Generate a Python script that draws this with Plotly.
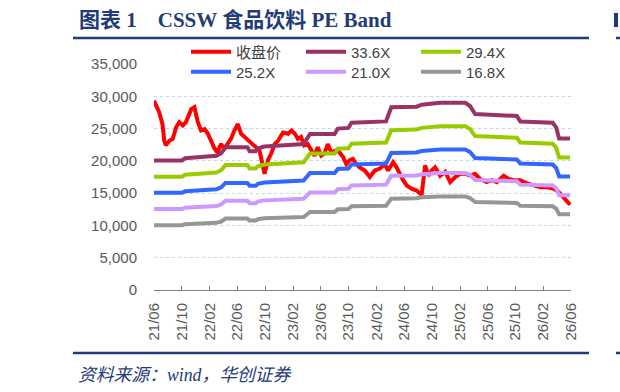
import plotly.graph_objects as go
import numpy as np

# ---- close price (收盘价) ----
close_dates = [
    "2021-06-01","2021-06-17","2021-06-24","2021-07-08","2021-07-16","2021-07-23","2021-08-07","2021-08-22",
    "2021-09-06","2021-09-20","2021-10-05","2021-10-19","2021-11-11","2021-11-25","2021-12-10","2021-12-24",
    "2022-01-09","2022-01-23","2022-02-07","2022-02-21","2022-03-06","2022-03-21","2022-04-05","2022-04-19",
    "2022-05-04","2022-05-19","2022-06-03","2022-06-17","2022-07-02","2022-07-24","2022-08-15","2022-09-06",
    "2022-09-28","2022-10-13","2022-10-27","2022-11-11","2022-11-26","2022-12-18","2023-01-09","2023-01-24",
    "2023-02-08","2023-02-21","2023-03-07","2023-03-21","2023-04-05","2023-04-20","2023-05-05","2023-05-19",
    "2023-06-03","2023-06-17","2023-07-02","2023-07-17","2023-08-08","2023-08-23","2023-09-07","2023-09-21",
    "2023-10-06","2023-10-20","2023-11-04","2023-11-19","2023-12-11","2024-01-02","2024-01-24","2024-02-15",
    "2024-03-07","2024-03-22","2024-04-13","2024-04-28","2024-05-12","2024-05-27","2024-06-11","2024-07-03",
    "2024-07-25","2024-08-16","2024-08-31","2024-09-15","2024-09-29","2024-10-14","2024-11-05","2024-11-27",
    "2024-12-19","2025-01-10","2025-02-01","2025-02-23","2025-03-16","2025-04-07","2025-04-29","2025-05-27",
    "2025-06-19","2025-07-11","2025-08-10","2025-09-01","2025-09-23","2025-10-22","2025-11-21","2025-12-19",
    "2026-01-18","2026-02-17","2026-03-16","2026-04-07","2026-04-29","2026-05-28",
]
close_values = [
    29300, 27800, 27500, 25700, 23100, 22400, 23100, 23400,
    25200, 26000, 25500, 26000, 28000, 28300, 26000, 24700,
    24900, 24200, 22900, 21900, 21300, 22600, 21900, 22600,
    23400, 24700, 25700, 24200, 23700, 23100, 22400, 21600,
    18000, 20100, 21100, 22600, 23100, 24400, 24200, 24700,
    24200, 23400, 23700, 22400, 22600, 21600, 20800, 22100,
    20800, 21100, 22600, 21300, 21600, 21300, 20600, 19500,
    20100, 20300, 19500, 19000, 18500, 17500, 18500, 18800,
    19500, 18500, 19800, 19000, 18000, 17000, 16200, 15700,
    15400, 14700, 19300, 17700, 18500, 19000, 17700, 18300,
    16700, 17500, 18000, 18000, 17700, 18000, 17200, 16700,
    17000, 16700, 17700, 17200, 17000, 17000, 16500, 16200,
    15900, 15900, 15700, 15200, 14400, 13200,
]

# ---- trailing EPS path (index points per 1x PE) ----
eps_dates = [
    "2021-06-01","2021-10-02","2021-10-15","2022-01-01","2022-03-01","2022-03-22","2022-04-10","2022-07-15",
    "2022-07-25","2022-08-20","2022-08-30","2022-09-27","2023-03-18","2023-04-01","2023-04-15","2023-08-01",
    "2023-08-15","2023-09-30","2023-10-14","2024-03-13","2024-04-05","2024-07-25","2024-08-16","2024-11-05",
    "2025-02-23","2025-03-16","2025-04-07","2025-10-07","2025-10-22","2026-03-13","2026-03-28","2026-04-10",
    "2026-05-28",
]
eps_values = [
    597, 597, 607, 613, 619, 631, 658, 658,
    640, 640, 652, 661, 673, 696, 719, 719,
    744, 747, 771, 777, 842, 845, 854, 863,
    863, 848, 811, 802, 777, 771, 750, 698,
    698,
]

pe_multiples = [33.6, 29.4, 25.2, 21.0, 16.8]
band_names = ["33.6X", "29.4X", "25.2X", "21.0X", "16.8X"]
band_colors = ["#993366", "#99cc00", "#3366ff", "#cc99ff", "#969696"]

x_tick_start = "2021-06-01"
x_range = ["2021-06-01", "2026-06-01"]
y_ticks = [0, 5000, 10000, 15000, 20000, 25000, 30000, 35000]

W, H = 620, 392
L, R, T, B = 154, 49, 64, 102
PW, PH = W - L - R, H - T - B

def px(xp):
    return (xp - L) / PW

def py(yp):
    return (H - B - yp) / PH

fig = go.Figure()

fig.add_trace(go.Scatter(
    x=close_dates, y=close_values, mode="lines", name="收盘价",
    line=dict(color="#ff0000", width=4), legend="legend",
))
eps_arr = np.array(eps_values, dtype=float)
legend_of = ["legend", "legend", "legend2", "legend2", "legend2"]
for m, nm, c, lg in zip(pe_multiples, band_names, band_colors, legend_of):
    fig.add_trace(go.Scatter(
        x=eps_dates, y=eps_arr * m, mode="lines", name=nm,
        line=dict(color=c, width=4), legend=lg,
    ))

legend_font = dict(family="Liberation Sans, Arial, Noto Sans CJK SC", size=15, color="#404040")
common_leg = dict(orientation="h", bgcolor="rgba(0,0,0,0)", font=legend_font,
                  itemwidth=40, entrywidth=60, entrywidthmode="pixels",
                  xanchor="left", yanchor="middle", tracegroupgap=0)

fig.update_layout(
    width=W, height=H,
    margin=dict(l=L, r=R, t=T, b=B),
    paper_bgcolor="white", plot_bgcolor="white",
    showlegend=True,
    legend=dict(x=px(186), y=py(52), **common_leg),
    legend2=dict(x=px(186), y=py(72), **common_leg),
    xaxis=dict(
        type="date", range=x_range, tick0=x_tick_start, dtick="M4",
        tickformat="%y/%m", tickangle=-90,
        ticks="inside", ticklen=4, tickcolor="#808080",
        showline=True, linecolor="#808080", linewidth=1,
        showgrid=False, zeroline=False,
        tickfont=dict(family="Liberation Sans, Arial", size=15, color="#595959"),
        ticklabelstandoff=6,
    ),
    yaxis=dict(
        range=[0, 35000], tickvals=y_ticks, tickformat=",",
        showgrid=True, gridcolor="#bdd7ee", griddash="dot", gridwidth=1,
        zeroline=False, showline=False, ticks="",
        tickfont=dict(family="Liberation Sans, Arial", size=15, color="#595959"),
        ticklabelstandoff=16,
    ),
)

navy = "#1f3c78"
# title & source
fig.add_annotation(
    x=px(77), y=py(20), xref="paper", yref="paper", xanchor="left", yanchor="middle",
    text="<b>图表 1　CSSW 食品饮料 PE Band</b>", showarrow=False,
    font=dict(family="Liberation Serif, Times New Roman, Noto Sans CJK SC", size=21, color=navy),
)
fig.add_annotation(
    x=px(76), y=py(375), xref="paper", yref="paper", xanchor="left", yanchor="middle",
    text="<i>资料来源：wind，华创证券</i>", showarrow=False,
    font=dict(family="Liberation Serif, Times New Roman, Noto Sans CJK SC", size=17.8, color=navy),
)
for yl in (38, 353):
    fig.add_shape(type="line", xref="paper", yref="paper",
                  x0=px(73), x1=px(589), y0=py(yl), y1=py(yl),
                  line=dict(color=navy, width=2.5))
    fig.add_shape(type="line", xref="paper", yref="paper",
                  x0=px(616), x1=px(621), y0=py(yl), y1=py(yl),
                  line=dict(color=navy, width=2.5))
fig.add_shape(type="rect", xref="paper", yref="paper",
              x0=px(614), x1=px(618), y0=py(13), y1=py(27),
              line=dict(width=0), fillcolor=navy)

fig.write_html("out.html")
